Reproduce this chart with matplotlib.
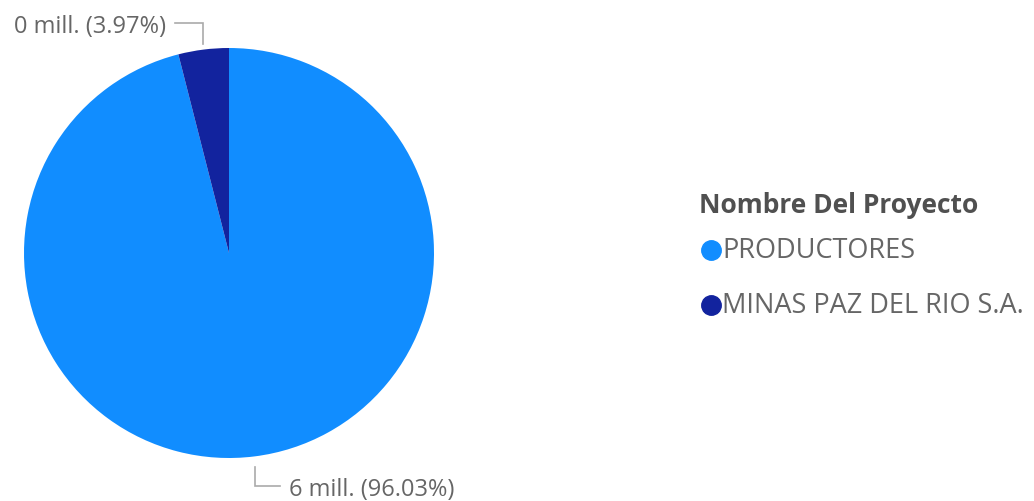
import numpy as np
import matplotlib
matplotlib.use("Agg")
import matplotlib.pyplot as plt

plt.rcParams['font.family'] = ['Open Sans', 'DejaVu Sans']

# ---- data ----
projects = ["PRODUCTORES", "MINAS PAZ DEL RIO S.A."]
values_mill = [5.80, 0.24]          # millions
colors = ["#118DFF", "#12239E"]
legend_title = "Nombre Del Proyecto"

W, H = 1034, 502
fig = plt.figure(figsize=(W / 100, H / 100), dpi=100)

# overlay axes in pixel coordinates for the legend
lax = fig.add_axes([0, 0, 1, 1])
lax.set_xlim(0, W)
lax.set_ylim(H, 0)
lax.axis('off')

# pie region in pixels
cx, cy, r = 229, 254, 205
ax = fig.add_axes([(cx - r) / W, (H - cy - r) / H, 2 * r / W, 2 * r / H])
ax.axis('off')

wedges, _ = ax.pie(values_mill, colors=colors, startangle=90, counterclock=False,
                   radius=1, center=(0, 0), wedgeprops=dict(linewidth=0))
ax.set_xlim(-1, 1)
ax.set_ylim(-1, 1)
ax.set_aspect('equal')

total = sum(values_mill)
label_col = "#666666"
line_col = "#AAAAAA"
for w, v in zip(wedges, values_mill):
    ang = np.deg2rad((w.theta1 + w.theta2) / 2)
    x0, y0 = np.cos(ang), np.sin(ang)
    txt = f"{v:.0f} mill. ({v / total * 100:.2f}%)"
    if y0 > 0:
        ya = 1.122
        xa = x0 - 0.14
        ax.plot([x0, x0, xa], [1.02, ya, ya], color=line_col, lw=1.2,
                clip_on=False, solid_joinstyle='miter')
        ax.text(xa - 0.045, ya - 0.015, txt, ha='right', va='center', fontsize=17,
                color=label_col)
    else:
        ya = -1.137
        xa = x0 + 0.125
        ax.plot([x0, x0, xa], [-1.044, ya, ya], color=line_col, lw=1.2,
                clip_on=False, solid_joinstyle='miter')
        ax.text(xa + 0.045, ya - 0.015, txt, ha='left', va='center', fontsize=17,
                color=label_col)

# legend (manual, pixel layout)
lax.text(699, 206, legend_title, ha='left', va='center', fontsize=19,
         fontweight='bold', color="#505050")
item_y = [251, 306]
for name, c, yy in zip(projects, colors, item_y):
    lax.plot([711], [yy], marker='o', markersize=14, color=c, linestyle='none')
    lax.text(722, yy, name, ha='left', va='center', fontsize=19.5,
             color=label_col)

fig.savefig("out.png", dpi=100, facecolor='white')
